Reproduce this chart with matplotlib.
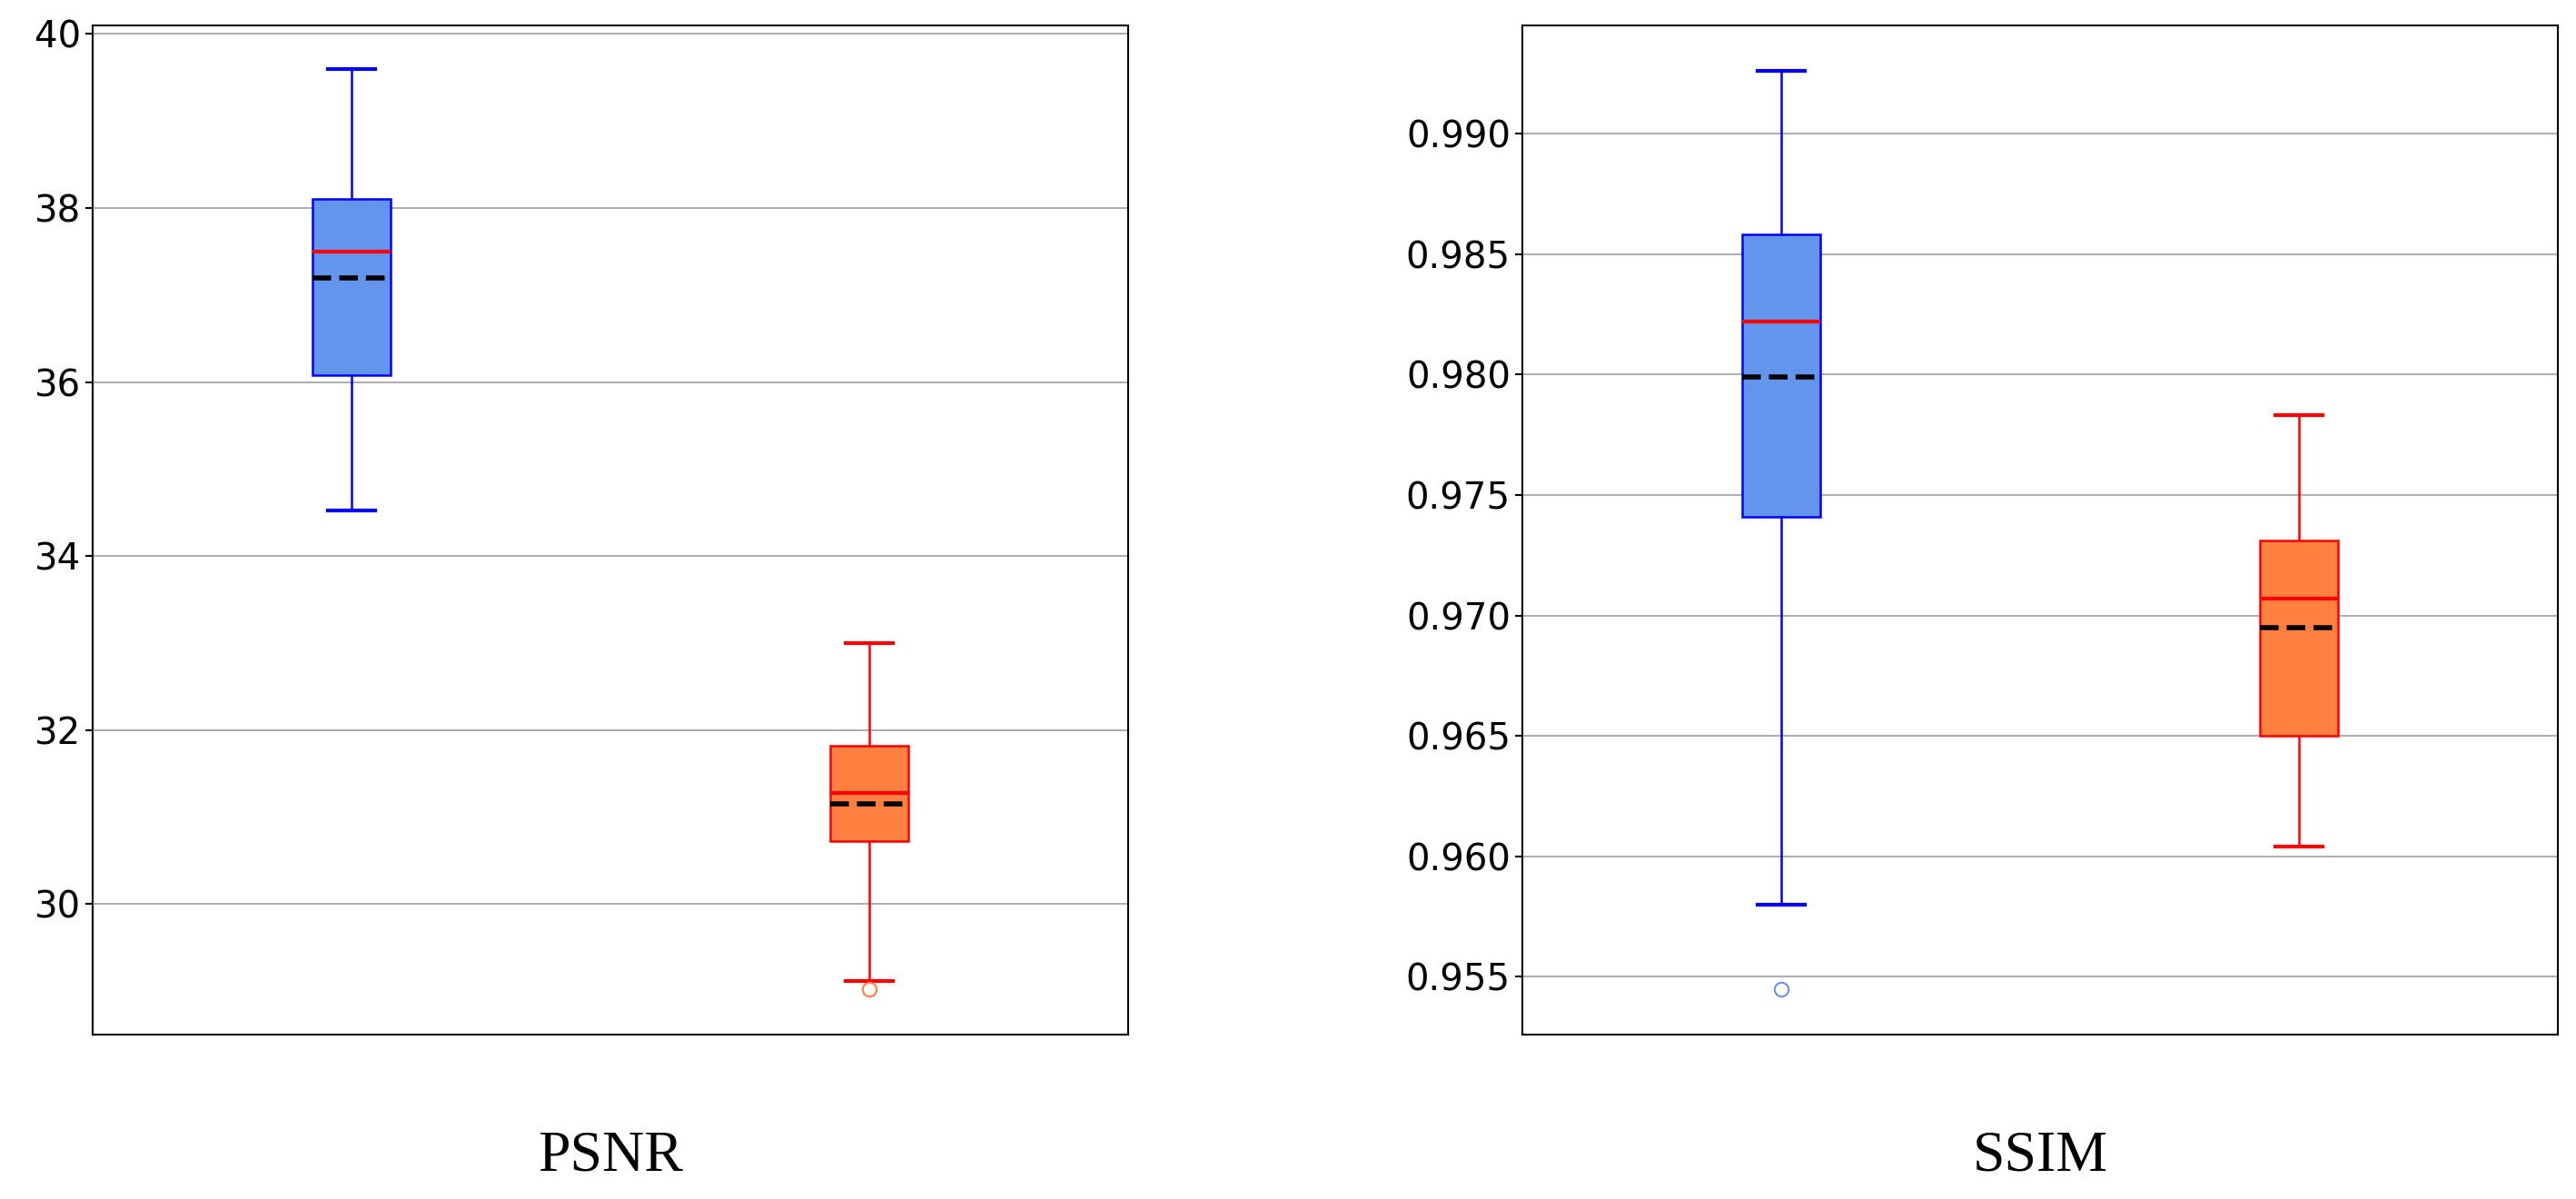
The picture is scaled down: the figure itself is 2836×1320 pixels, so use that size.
import matplotlib.pyplot as plt

panels = ["PSNR", "SSIM"]
psnr_stats = [
    dict(whislo=34.52, q1=36.08, med=37.5, mean=37.2, q3=38.1, whishi=39.6, fliers=[]),
    dict(whislo=29.12, q1=30.72, med=31.28, mean=31.15, q3=31.82, whishi=33.0, fliers=[29.02]),
]
ssim_stats = [
    dict(whislo=0.958, q1=0.9741, med=0.9822, mean=0.9799, q3=0.9858, whishi=0.9926, fliers=[0.9545]),
    dict(whislo=0.9604, q1=0.9650, med=0.9707, mean=0.9695, q3=0.9731, whishi=0.9783, fliers=[]),
]
ylims = [(28.5, 40.1), (0.9526, 0.9945)]
yticks = [[30, 32, 34, 36, 38, 40],
          [0.955, 0.960, 0.965, 0.970, 0.975, 0.980, 0.985, 0.990]]
ytick_fmt = ["{:.0f}", "{:.3f}"]

face = ["cornflowerblue", "#ff8040"]
edge = ["blue", "red"]
flier_col = ["cornflowerblue", "#ff8040"]

fig = plt.figure(figsize=(28.36, 13.2), dpi=100)
rects = [[0.036, 0.137, 0.402, 0.842], [0.591, 0.137, 0.402, 0.842]]
for i, (name, stats) in enumerate(zip(panels, [psnr_stats, ssim_stats])):
    ax = fig.add_axes(rects[i])
    ax.yaxis.grid(True, color="#b0b0b0", lw=1.5)
    ax.set_axisbelow(True)
    for j, st in enumerate(stats):
        ax.bxp([st], positions=[j + 1], widths=0.15, patch_artist=True,
               showmeans=True, meanline=True, capwidths=0.09,
               boxprops=dict(facecolor=face[j], edgecolor=edge[j], lw=1.8),
               whiskerprops=dict(color=edge[j], lw=1.8),
               capprops=dict(color=edge[j], lw=3),
               medianprops=dict(color="red", lw=3),
               meanprops=dict(color="black", ls="--", lw=4),
               flierprops=dict(marker="o", markerfacecolor="none",
                               markeredgecolor=flier_col[j], markersize=11, mew=1.5))
    ax.set_xlim(0.5, 2.5)
    ax.set_ylim(*ylims[i])
    ax.set_xticks([])
    ax.set_yticks(yticks[i])
    ax.set_yticklabels([ytick_fmt[i].format(v) for v in yticks[i]])
    ax.tick_params(axis="y", labelsize=29, length=6, width=1.5)
    for s in ax.spines.values():
        s.set_linewidth(1.5)
    fig.text(rects[i][0] + rects[i][2] / 2, 0.035, name, ha="center", va="center",
             fontsize=46, family="Liberation Serif")

fig.savefig("out.png", dpi=100)
